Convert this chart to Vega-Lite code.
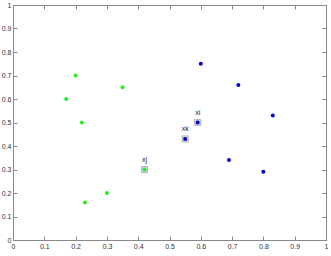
{
  "$schema": "https://vega.github.io/schema/vega-lite/v6.json",
  "width": 313,
  "height": 235,
  "autosize": {"type": "none"},
  "padding": {"left": 13, "top": 5, "right": 5, "bottom": 16},
  "background": "white",
  "config": {
    "view": {"stroke": null},
    "axis": {
      "grid": false,
      "domainColor": "#888888",
      "tickColor": "#888888",
      "tickSize": -4,
      "labelPadding": 6,
      "labelFont": "Liberation Sans",
      "labelFontSize": 7,
      "labelColor": "#333333",
      "labelOverlap": false,
      "labelFlush": false,
      "title": null,
      "format": "~g"
    }
  },
  "data": {
    "values": [
      {"x": 0.2, "y": 0.7, "group": "A", "hl": false, "label": ""},
      {"x": 0.17, "y": 0.6, "group": "A", "hl": false, "label": ""},
      {"x": 0.22, "y": 0.5, "group": "A", "hl": false, "label": ""},
      {"x": 0.35, "y": 0.65, "group": "A", "hl": false, "label": ""},
      {"x": 0.3, "y": 0.2, "group": "A", "hl": false, "label": ""},
      {"x": 0.23, "y": 0.16, "group": "A", "hl": false, "label": ""},
      {"x": 0.42, "y": 0.3, "group": "A", "hl": true, "label": "xj"},
      {"x": 0.6, "y": 0.75, "group": "B", "hl": false, "label": ""},
      {"x": 0.72, "y": 0.66, "group": "B", "hl": false, "label": ""},
      {"x": 0.83, "y": 0.53, "group": "B", "hl": false, "label": ""},
      {"x": 0.59, "y": 0.5, "group": "B", "hl": true, "label": "xi"},
      {"x": 0.55, "y": 0.43, "group": "B", "hl": true, "label": "xk"},
      {"x": 0.69, "y": 0.34, "group": "B", "hl": false, "label": ""},
      {"x": 0.8, "y": 0.29, "group": "B", "hl": false, "label": ""}
    ]
  },
  "layer": [
    {
      "transform": [{"filter": "datum.hl"}],
      "mark": {"type": "square", "size": 38, "fill": "#d4d4e4", "stroke": "#a8a8b8", "strokeWidth": 0.8, "opacity": 1},
      "encoding": {
        "x": {"field": "x", "type": "quantitative", "scale": {"domain": [0, 1], "nice": false}, "axis": {"orient": "bottom", "values": [0, 0.1, 0.2, 0.3, 0.4, 0.5, 0.6, 0.7, 0.8, 0.9, 1]}},
        "y": {"field": "y", "type": "quantitative", "scale": {"domain": [0, 1], "nice": false}, "axis": {"orient": "left", "values": [0, 0.1, 0.2, 0.3, 0.4, 0.5, 0.6, 0.7, 0.8, 0.9, 1]}}
      }
    },
    {
      "mark": {"type": "circle", "size": 16, "opacity": 1},
      "encoding": {
        "x": {"field": "x", "type": "quantitative", "axis": null},
        "y": {"field": "y", "type": "quantitative", "axis": null},
        "color": {"field": "group", "type": "nominal", "scale": {"domain": ["A", "B"], "range": ["#22ee22", "#0000cc"]}, "legend": null}
      }
    },
    {
      "transform": [{"filter": "datum.hl"}],
      "mark": {"type": "text", "dy": -10, "font": "Liberation Sans", "fontSize": 7, "color": "#222222"},
      "encoding": {
        "x": {"field": "x", "type": "quantitative", "axis": null},
        "y": {"field": "y", "type": "quantitative", "axis": null},
        "text": {"field": "label"}
      }
    },
    {
      "mark": {"type": "point", "opacity": 0},
      "encoding": {
        "x": {"field": "x", "type": "quantitative", "scale": {"domain": [0, 1], "nice": false}, "axis": {"orient": "top", "labels": false, "values": [0, 0.1, 0.2, 0.3, 0.4, 0.5, 0.6, 0.7, 0.8, 0.9, 1]}},
        "y": {"field": "y", "type": "quantitative", "scale": {"domain": [0, 1], "nice": false}, "axis": {"orient": "right", "labels": false, "values": [0, 0.1, 0.2, 0.3, 0.4, 0.5, 0.6, 0.7, 0.8, 0.9, 1]}}
      }
    }
  ],
  "resolve": {"axis": {"x": "independent", "y": "independent"}}
}
